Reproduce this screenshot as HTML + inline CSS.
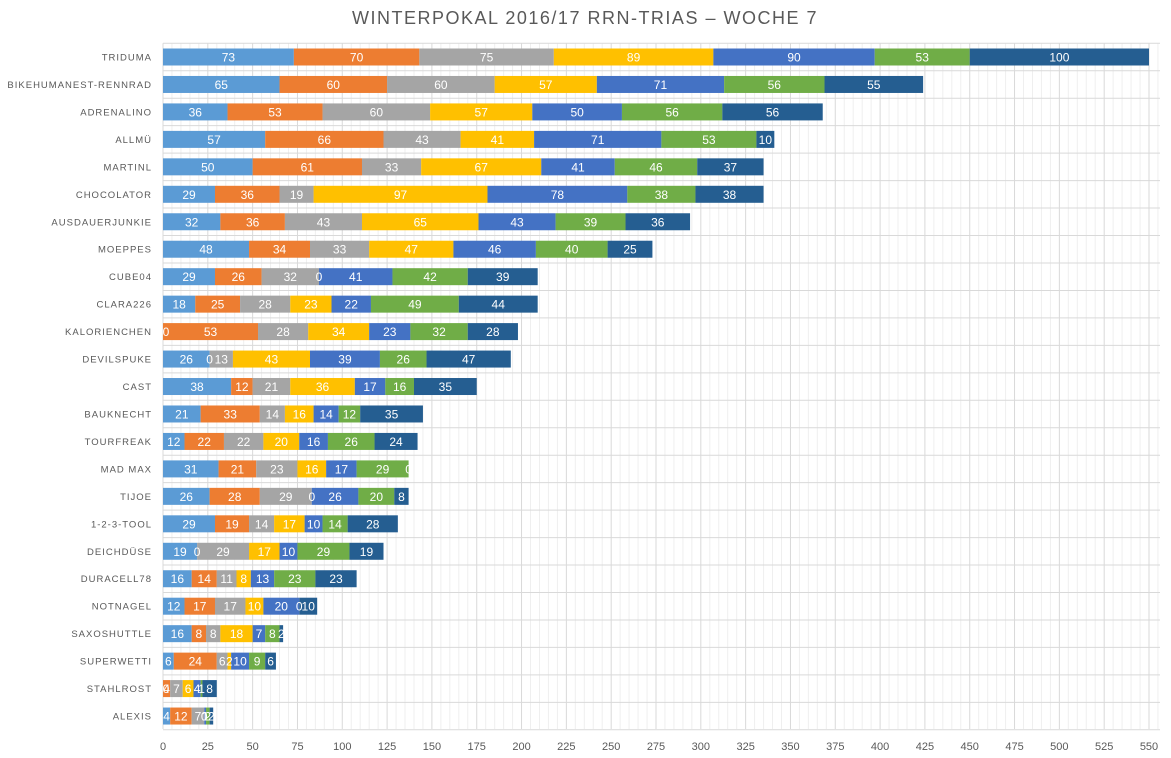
<!DOCTYPE html>
<html><head><meta charset="utf-8"><style>
body{margin:0;background:#fff;}
svg{display:block;font-family:"Liberation Sans",sans-serif;}
</style></head><body>
<svg id="c" width="1171" height="758" xmlns="http://www.w3.org/2000/svg"></svg>
<script>
(function(){
var names=["TRIDUMA","BIKEHUMANEST-RENNRAD","ADRENALINO","ALLMÜ","MARTINL","CHOCOLATOR","AUSDAUERJUNKIE","MOEPPES","CUBE04","CLARA226","KALORIENCHEN","DEVILSPUKE","CAST","BAUKNECHT","TOURFREAK","MAD MAX","TIJOE","1-2-3-TOOL","DEICHDÜSE","DURACELL78","NOTNAGEL","SAXOSHUTTLE","SUPERWETTI","STAHLROST","ALEXIS"];
var data=[[73,70,75,89,90,53,100],[65,60,60,57,71,56,55],[36,53,60,57,50,56,56],[57,66,43,41,71,53,10],[50,61,33,67,41,46,37],[29,36,19,97,78,38,38],[32,36,43,65,43,39,36],[48,34,33,47,46,40,25],[29,26,32,0,41,42,39],[18,25,28,23,22,49,44],[0,53,28,34,23,32,28],[26,0,13,43,39,26,47],[38,12,21,36,17,16,35],[21,33,14,16,14,12,35],[12,22,22,20,16,26,24],[31,21,23,16,17,29,0],[26,28,29,0,26,20,8],[29,19,14,17,10,14,28],[19,0,29,17,10,29,19],[16,14,11,8,13,23,23],[12,17,17,10,20,0,10],[16,8,8,18,7,8,2],[6,24,6,2,10,9,6],[0,4,7,6,4,1,8],[4,12,7,0,1,2,2]];
var cols=["#5B9BD5","#ED7D31","#A5A5A5","#FFC000","#4472C4","#70AD47","#255E91"];
var x0=163,k=(1149-163)/550,y0=43.3,step=27.46;
var s='',t='';
s+='<text x="585" y="24" text-anchor="middle" font-size="18" fill="#595959" letter-spacing="1.5">WINTERPOKAL 2016/17 RRN-TRIAS – WOCHE 7</text>';
for(var v=0;v<=555;v+=5){var x=x0+v*k;var maj=v%25==0;s+='<line x1="'+x+'" y1="'+y0+'" x2="'+x+'" y2="729" stroke="'+(maj?'#d9d9d9':'#efefef')+'" stroke-width="1"/>';
if(maj&&v<=550)s+='<text x="'+x+'" y="750" text-anchor="middle" font-size="11" fill="#595959">'+v+'</text>';}
for(var i=0;i<=25;i++){var y=y0+i*step;s+='<line x1="'+x0+'" y1="'+y+'" x2="1160" y2="'+y+'" stroke="#d9d9d9"/>';}
names.forEach(function(n,i){var cy=57+i*step;
s+='<text x="152" y="'+(cy+3.5)+'" text-anchor="end" font-size="9.5" fill="#595959" letter-spacing="1">'+n+'</text>';
var acc=0;data[i].forEach(function(v,j){var x=x0+acc*k,w=v*k;
if(w>0)s+='<rect x="'+x+'" y="'+(cy-8.5)+'" width="'+w+'" height="17" fill="'+cols[j]+'"/>';
t+='<text x="'+Math.max(x+w/2,x0+3)+'" y="'+(cy+4.5)+'" text-anchor="middle" font-size="12" fill="#fff">'+v+'</text>';acc+=v;});});
document.getElementById('c').innerHTML=s+t;
})();
</script>
</body></html>
